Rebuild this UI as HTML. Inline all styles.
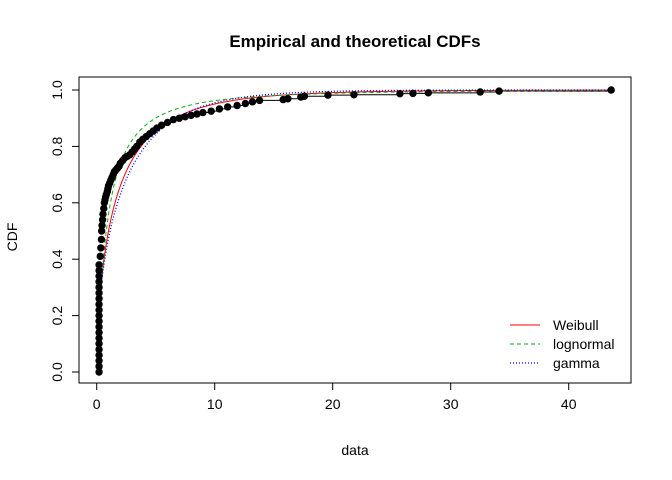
<!DOCTYPE html>
<html><head><meta charset="utf-8"><style>
body{margin:0;background:#fff}
svg{display:block;font-family:"Liberation Sans",sans-serif}
</style></head><body>
<svg id="c" width="672" height="480">
<text x="355" y="47" text-anchor="middle" font-weight="bold" font-size="17">Empirical and theoretical CDFs</text>
<rect x="79" y="77" width="552" height="306" fill="none" stroke="#000"/>
<text x="355" y="455" text-anchor="middle" font-size="14">data</text>
<text transform="translate(17,237) rotate(-90)" text-anchor="middle" font-size="14">CDF</text>
<g id="axes"></g><g id="marks"></g>
<g font-size="14">
<line x1="510" y1="325" x2="540" y2="325" stroke="red"/>
<text x="553" y="330">Weibull</text>
<line x1="510" y1="344" x2="540" y2="344" stroke="#1a1" stroke-dasharray="4,3"/>
<text x="553" y="349">lognormal</text>
<line x1="510" y1="363" x2="540" y2="363" stroke="blue" stroke-dasharray="1,2" stroke-width="1.3"/>
<text x="553" y="368">gamma</text>
</g>
</svg>
<script>
const xTicks=[0,10,20,30,40];
const yTicks=[0,0.2,0.4,0.6,0.8,1.0];
const yTickLabels=["0.0","0.2","0.4","0.6","0.8","1.0"];
const empX=[0.2,0.2,0.2,0.2,0.2,0.2,0.2,0.2,0.2,0.2,0.2,0.2,0.2,0.2,0.2,0.2,0.2,0.2,0.2,0.2,0.3,0.35,0.4,0.42,0.45,0.5,0.53,0.6,0.65,0.7,0.75,0.82,0.9,0.95,1.0,1.1,1.2,1.3,1.4,1.5,1.6,1.7,1.8,1.9,2.0,2.2,2.4,2.6,2.8,3.0,3.2,3.4,3.65,3.9,4.2,4.5,4.8,5.1,5.5,6.0,6.5,7.0,7.5,8.0,8.5,9.0,9.7,10.4,11.1,11.9,12.6,13.2,13.8,15.8,16.2,17.3,17.6,19.6,21.8,25.7,26.8,28.1,32.5,34.1,43.6];
const empY=[0,0.02,0.04,0.06,0.08,0.1,0.12,0.14,0.16,0.18,0.2,0.22,0.24,0.26,0.28,0.3,0.32,0.34,0.36,0.38,0.41,0.44,0.47,0.5,0.52,0.54,0.56,0.58,0.6,0.61,0.62,0.63,0.64,0.65,0.66,0.67,0.68,0.69,0.7,0.71,0.715,0.72,0.725,0.73,0.74,0.75,0.76,0.765,0.77,0.78,0.79,0.8,0.815,0.825,0.835,0.845,0.855,0.865,0.875,0.885,0.895,0.9,0.905,0.91,0.915,0.92,0.925,0.933,0.94,0.945,0.952,0.958,0.963,0.966,0.969,0.975,0.978,0.982,0.983,0.987,0.988,0.99,0.993,0.996,1.0];
const weibullParams=[0.637,1.78];
const lognormParams=[-0.205,1.413];
const gammaParams=[0.5,0.2];
const X=v=>96.7+v*11.8, Y=v=>372-v*282;
const NS="http://www.w3.org/2000/svg";
function mk(t,a,p){const e=document.createElementNS(NS,t);for(const k in a)e.setAttribute(k,a[k]);p.appendChild(e);return e;}
const ax=document.getElementById('axes'), mg=document.getElementById('marks');
mk('line',{x1:X(0),x2:X(40),y1:383,y2:383,stroke:'#000'},ax);
xTicks.forEach(t=>{mk('line',{x1:X(t),x2:X(t),y1:383,y2:390,stroke:'#000'},ax);
 const tx=mk('text',{x:X(t),y:409,'text-anchor':'middle','font-size':14},ax);tx.textContent=t;
 
 });
mk('line',{x1:79,x2:79,y1:Y(0),y2:Y(1),stroke:'#000'},ax);
yTicks.forEach((t,i)=>{mk('line',{x1:72,x2:79,y1:Y(t),y2:Y(t),stroke:'#000'},ax);
 const tx=mk('text',{transform:`translate(62,${Y(t)}) rotate(-90)`,'text-anchor':'middle','font-size':14},ax);tx.textContent=yTickLabels[i];
 
 });
let d='';for(let i=0;i<empX.length;i++){const nx=i+1<empX.length?empX[i+1]:empX[i];d+=`M${X(empX[i])},${Y(empY[i])}H${X(nx)}`;}
const st=mk('path',{d:d,stroke:'#000',fill:'none'},mg);


function lgamma(z){const g=7,c=[0.99999999999980993,676.5203681218851,-1259.1392167224028,771.32342877765313,-176.61502916214059,12.507343278686905,-0.13857109526572012,9.9843695780195716e-6,1.5056327351493116e-7];
 if(z<0.5)return Math.log(Math.PI/Math.sin(Math.PI*z))-lgamma(1-z);z-=1;let a=c[0];const t=z+g+0.5;for(let i=1;i<9;i++)a+=c[i]/(z+i);return 0.5*Math.log(2*Math.PI)+(z+0.5)*Math.log(t)-t+Math.log(a);}
function pgamma(a,x){if(x<=0)return 0;let s=1/a,t=1/a;for(let n=1;n<1000;n++){t*=x/(a+n);s+=t;if(t<1e-12)break;}return Math.min(1,Math.exp(-x+a*Math.log(x)-lgamma(a))*s);}
function erf(x){const s=Math.sign(x);x=Math.abs(x);const t=1/(1+0.3275911*x);const y=1-(((((1.061405429*t-1.453152027)*t)+1.421413741)*t-0.284496736)*t+0.254829592)*t*Math.exp(-x*x);return s*y;}
const fns={
 weibull:x=>1-Math.exp(-Math.pow(x/weibullParams[1],weibullParams[0])),
 lognormal:x=>0.5*(1+erf((Math.log(x)-lognormParams[0])/(lognormParams[1]*Math.SQRT2))),
 gamma:x=>pgamma(gammaParams[0],x*gammaParams[1])};
const sty={weibull:{stroke:'red'},lognormal:{stroke:'#1a1','stroke-dasharray':'4,3'},gamma:{stroke:'blue','stroke-dasharray':'1,2','stroke-width':1.3}};
const x0=empX[0],x1=empX[empX.length-1];
for(const k in fns){let p='';for(let i=0;i<=400;i++){const x=x0*Math.pow(x1/x0,i/400);p+=(i?'L':'M')+X(x).toFixed(2)+','+Y(fns[k](x)).toFixed(2);}
 const e=mk('path',Object.assign({d:p,fill:'none'},sty[k]),mg);
 
 }
empX.forEach((v,i)=>{const c=mk('circle',{cx:X(v),cy:Y(empY[i]),r:3.7,fill:'#000'},mg);
 
 });
</script>
</body></html>
